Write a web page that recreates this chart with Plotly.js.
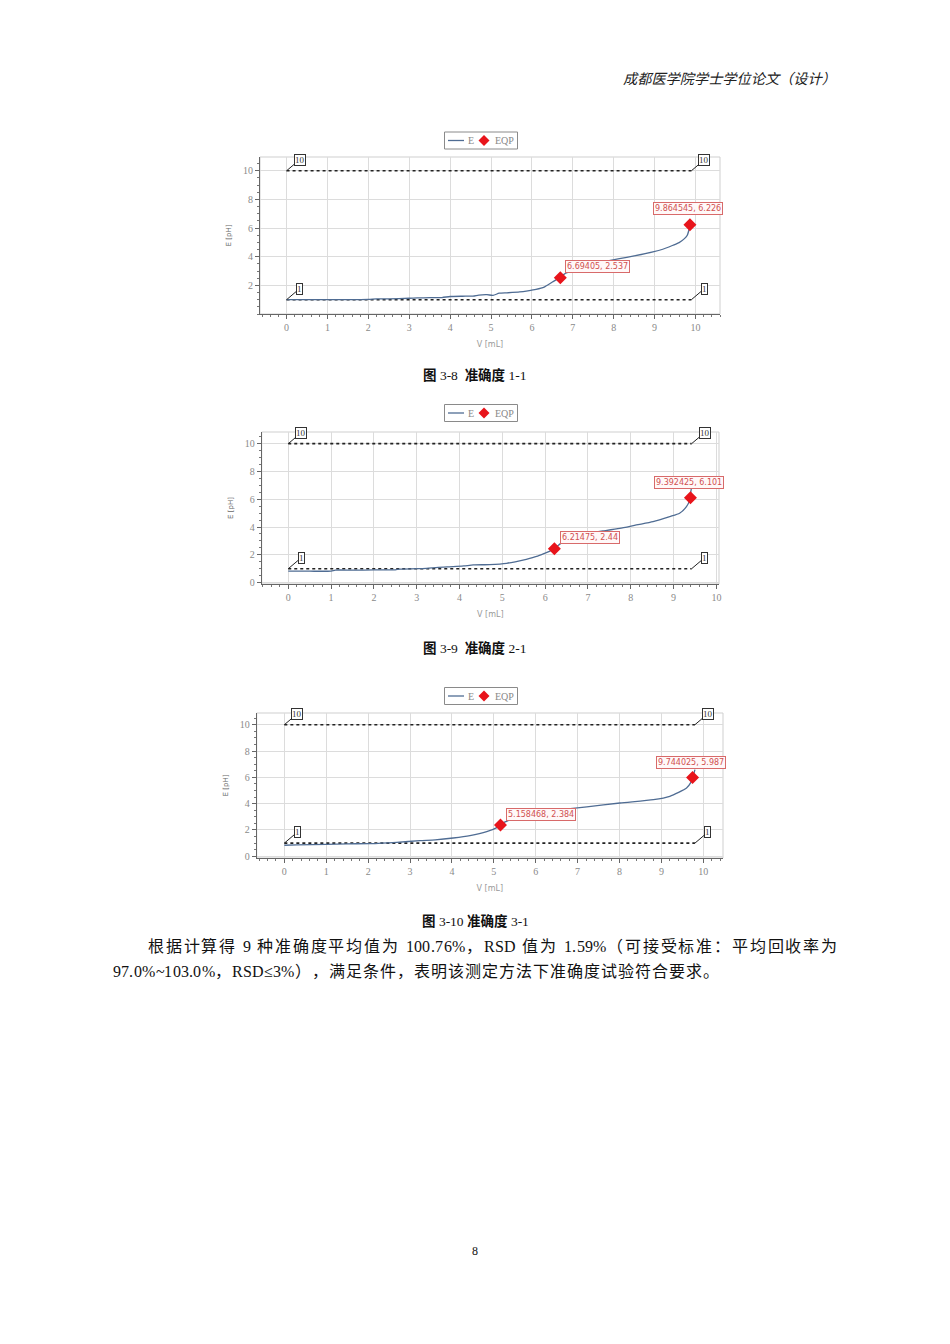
<!DOCTYPE html>
<html><head><meta charset="utf-8">
<script src="https://cdn.plot.ly/plotly-3.0.1.min.js"></script>
<style>html,body{margin:0;padding:0;background:#fff;}</style>
</head><body><div id="page" style="width:950px;height:1344px;"></div>
<script>
// ---- data ----
const v1 = [0, 0.5, 1, 1.5, 2, 2.2, 2.5, 3, 3.2, 3.5, 3.8, 4, 4.3, 4.56, 4.7, 4.9, 5.05, 5.2, 5.4, 5.7, 5.9, 6.1, 6.3, 6.5, 6.64, 6.8, 7.0, 7.33, 7.7, 8.14, 8.5, 8.96, 9.2, 9.45, 9.6, 9.73, 9.8, 9.85, 9.88];
const e1 = [1.0, 1.0, 1.0, 1.0, 1.02, 1.05, 1.06, 1.1, 1.12, 1.14, 1.15, 1.22, 1.24, 1.25, 1.32, 1.35, 1.3, 1.45, 1.48, 1.54, 1.62, 1.72, 1.88, 2.23, 2.47, 2.8, 3.06, 3.45, 3.62, 3.86, 4.05, 4.33, 4.52, 4.8, 4.98, 5.26, 5.5, 5.96, 6.22];
const v2 = [0, 0.5, 1.0, 1.1, 1.5, 2, 2.5, 2.6, 3, 3.23, 3.5, 3.85, 4.1, 4.32, 4.7, 5.1, 5.3, 5.56, 5.8, 5.99, 6.1, 6.25, 6.42, 6.65, 6.96, 7.35, 7.74, 8.13, 8.52, 8.91, 9.14, 9.3, 9.37, 9.4, 9.42];
const e2 = [0.82, 0.82, 0.83, 0.9, 0.9, 0.91, 0.92, 0.97, 1.0, 1.03, 1.1, 1.15, 1.2, 1.27, 1.3, 1.39, 1.5, 1.68, 1.88, 2.11, 2.25, 2.55, 2.95, 3.26, 3.55, 3.72, 3.9, 4.15, 4.39, 4.75, 4.99, 5.47, 5.9, 6.5, 6.9];
const v3 = [0, 0.3, 1.0, 1.5, 2.04, 2.68, 3.24, 3.6, 4.03, 4.43, 4.83, 5.07, 5.2, 5.39, 5.62, 6.02, 6.42, 7.22, 8.01, 8.81, 9.2, 9.6, 9.7, 9.75, 9.8];
const e3 = [0.84, 0.86, 0.91, 0.95, 0.96, 1.06, 1.19, 1.25, 1.39, 1.57, 1.87, 2.18, 2.5, 2.78, 3.09, 3.34, 3.49, 3.75, 4.05, 4.3, 4.56, 5.19, 5.6, 6.0, 6.58];

const eqpV1 = [6.69405, 9.864545], eqpE1 = [2.537, 6.226];
const eqpV2 = [6.21475, 9.392425], eqpE2 = [2.44, 6.101];
const eqpV3 = [5.158468, 9.744025], eqpE3 = [2.384, 5.987];
const eqpLabels1 = ["6.69405, 2.537", "9.864545, 6.226"];
const eqpLabels2 = ["6.21475, 2.44", "9.392425, 6.101"];
const eqpLabels3 = ["5.158468, 2.384", "9.744025, 5.987"];

const limitHigh = 10, limitLow = 1;
const limitEnd = [9.9, 9.42, 9.8];

const captions = ["<b>图</b> 3-8  <b>准确度</b> 1-1", "<b>图</b> 3-9  <b>准确度</b> 2-1", "<b>图</b> 3-10 <b>准确度</b> 3-1"];
const headerText = "成都医学院学士学位论文（设计）";
const para1 = "根据计算得 9 种准确度平均值为 100.76%，RSD 值为 1.59%（可接受标准：平均回收率为";
const para2 = "97.0%~103.0%，RSD≤3%），满足条件，表明该测定方法下准确度试验符合要求。";
const pageNo = "8";

// ---- layout geometry (pixels on the 950x1344 page) ----
const W = 950, H = 1344;
const px = x => x / W, py = y => 1 - y / H;
const charts = [
  {v: v1, e: e1, qv: eqpV1, qe: eqpE1, ql: eqpLabels1, box: [260, 720, 157, 314], xr: [-0.65, 10.6], yr: [0, 10.96], yt: [2,4,6,8,10], leg: 140.5, lab1: {xs: 5, ys: 11}, lab2: {xs: -2, ys: 16}},
  {v: v2, e: e2, qv: eqpV2, qe: eqpE2, ql: eqpLabels2, box: [261.7, 719, 432, 584], xr: [-0.62, 10.06], yr: [-0.1, 10.84], yt: [0,2,4,6,8,10], leg: 413, lab1: {xs: 6, ys: 11}, lab2: {xs: -1, ys: 15}},
  {v: v3, e: e3, qv: eqpV3, qe: eqpE3, ql: eqpLabels3, box: [256.7, 723, 713, 858], xr: [-0.66, 10.47], yr: [-0.13, 10.89], yt: [0,2,4,6,8,10], leg: 696, lab1: {xs: 6, ys: 10}, lab2: {xs: -2, ys: 15}}
];

const lineColor = "#4f6c93", eqpColor = "#e8141b";
const tickFont = {family: "Liberation Serif, DejaVu Serif, serif", size: 10, color: "#8a8a8a"};
const traces = [], annotations = [], shapes = [];
const layout = {width: W, height: H, margin: {l: 0, r: 0, t: 0, b: 0}, paper_bgcolor: "#fff", plot_bgcolor: "#fff", showlegend: false};

charts.forEach((c, i) => {
  const n = i === 0 ? "" : String(i + 1);
  const xa = "x" + n, ya = "y" + n;
  const lim = limitEnd[i];
  layout["xaxis" + n] = {
    domain: [px(c.box[0]), px(c.box[1])], anchor: ya, range: c.xr, tickvals: [0,1,2,3,4,5,6,7,8,9,10],
    showgrid: true, gridcolor: "#dcdcdc", gridwidth: 1, zeroline: false,
    showline: true, linecolor: "#666", linewidth: 1, ticks: "outside", ticklen: 4, tickcolor: "#666",
    minor: {ticks: "outside", ticklen: 2, tickcolor: "#777", dtick: 0.2, showgrid: false},
    tickfont: tickFont,
    title: {text: "V [mL]", font: {family: "DejaVu Sans, sans-serif", size: 8, color: "#999"}, standoff: 9}
  };
  layout["yaxis" + n] = {
    domain: [py(c.box[3]), py(c.box[2])], anchor: xa, range: c.yr, tickvals: c.yt,
    showgrid: true, gridcolor: "#dcdcdc", gridwidth: 1, zeroline: false,
    showline: true, linecolor: "#666", linewidth: 1, ticks: "outside", ticklen: 4, tickcolor: "#666",
    minor: {ticks: "outside", ticklen: 2, tickcolor: "#777", dtick: 0.5, showgrid: false},
    tickfont: tickFont,
    title: {text: "E [pH]", font: {family: "DejaVu Sans, sans-serif", size: 7, color: "#666"}, standoff: 10}
  };
  // frame on top / right
  shapes.push({type: "rect", xref: xa + " domain", yref: ya + " domain", x0: 0, x1: 1, y0: 0, y1: 1, line: {color: "#cfcfcf", width: 1}, layer: "below"});

  // legend key above each chart
  const ly = c.leg;
  shapes.push({type: "rect", xref: "paper", yref: "paper", x0: px(444.5), x1: px(517.5), y0: py(ly - 8.5), y1: py(ly + 8.5), line: {color: "#8a8a8a", width: 1}, fillcolor: "#fff"});
  shapes.push({type: "line", xref: "paper", yref: "paper", x0: px(448), x1: px(464), y0: py(ly), y1: py(ly), line: {color: lineColor, width: 1.3}});
  shapes.push({type: "path", xref: "paper", yref: "paper", fillcolor: eqpColor, line: {color: eqpColor, width: 0},
    path: `M ${px(484)} ${py(ly - 5.5)} L ${px(489.5)} ${py(ly)} L ${px(484)} ${py(ly + 5.5)} L ${px(478.5)} ${py(ly)} Z`});
  annotations.push({xref: "paper", yref: "paper", x: px(465.5), y: py(ly), xanchor: "left", yanchor: "middle", showarrow: false,
    text: "E", font: {family: "Liberation Serif, serif", size: 10, color: "#888"}});
  annotations.push({xref: "paper", yref: "paper", x: px(493), y: py(ly), xanchor: "left", yanchor: "middle", showarrow: false,
    text: "EQP", font: {family: "Liberation Serif, serif", size: 10, color: "#888"}});

  // limit lines
  [limitHigh, limitLow].forEach(L => {
    traces.push({x: [0, lim], y: [L, L], xaxis: xa, yaxis: ya, mode: "lines", showlegend: false, hoverinfo: "skip",
      line: {color: "#222", width: 1.6, dash: "dot"}});
    [0, lim].forEach(xx => annotations.push({
      x: xx, y: L, xref: xa, yref: ya, text: String(L), showarrow: true, arrowhead: 0, arrowwidth: 1, arrowcolor: "#222",
      ax: 13, ay: -11, bgcolor: "#fff", bordercolor: "#333", borderwidth: 1, borderpad: 0,
      font: {family: "Liberation Serif, serif", size: 9, color: "#333"}
    }));
  });

  traces.push({x: c.v, y: c.e, xaxis: xa, yaxis: ya, mode: "lines", name: "E",
    line: {color: lineColor, width: 1.3, shape: "spline", smoothing: 0.6}});
  traces.push({x: c.qv, y: c.qe, xaxis: xa, yaxis: ya, mode: "markers", name: "EQP",
    marker: {symbol: "diamond", size: 10, color: eqpColor}});

  [c.lab1, c.lab2].forEach((lb, k) => annotations.push({
    x: c.qv[k], y: c.qe[k], xref: xa, yref: ya, text: c.ql[k], showarrow: false,
    xanchor: k === 0 ? "left" : "center", yanchor: "middle", xshift: lb.xs, yshift: lb.ys,
    bgcolor: "#fff8f8", bordercolor: "#d86a6a", borderwidth: 1, borderpad: 1,
    font: {family: "DejaVu Sans, sans-serif", size: 8, color: "#d05050"}
  }));
});

// page texts
const cjk = "Liberation Serif, Noto Sans CJK SC, serif";
annotations.push({xref: "paper", yref: "paper", x: px(838), y: py(79), xanchor: "right", yanchor: "middle", showarrow: false,
  text: "<i>" + headerText + "</i>", font: {family: cjk, size: 14.2, color: "#222"}});
[375, 648, 921].forEach((yy, i) => annotations.push({xref: "paper", yref: "paper", x: px(475), y: py(yy), xanchor: "center", yanchor: "middle", showarrow: false,
  text: captions[i], font: {family: cjk, size: 13.5, color: "#111"}}));

// paragraph: justify each line across the same width as on the page
const ctx = document.createElement("canvas").getContext("2d");
const paraSize = 16;
ctx.font = paraSize + "px 'Liberation Serif', 'Noto Sans CJK SC', serif";
const isWide = ch => /[\u3000-\u9fff\uff00-\uffef ]/.test(ch);
function layLine(str, x0, x1, yy) {
  const chars = Array.from(str);
  const widths = chars.map(ch => ctx.measureText(ch).width);
  const weights = chars.map(ch => isWide(ch) ? 1 : 0.25);
  const total = widths.reduce((a, b) => a + b, 0);
  const wsum = weights.slice(0, -1).reduce((a, b) => a + b, 0);
  const unit = (x1 - x0 - total) / wsum;
  let x = x0;
  chars.forEach((ch, k) => {
    if (ch !== " ") annotations.push({xref: "paper", yref: "paper", x: px(x), y: py(yy), xanchor: "left", yanchor: "middle",
      showarrow: false, borderpad: 0, text: ch, font: {family: cjk, size: paraSize, color: "#111"}});
    x += widths[k] + unit * weights[k];
  });
}
layLine(para1, 147, 836, 946);
layLine(para2, 112, 718, 971);

annotations.push({xref: "paper", yref: "paper", x: px(475), y: py(1251), xanchor: "center", yanchor: "middle", showarrow: false,
  text: pageNo, font: {family: cjk, size: 12, color: "#111"}});

layout.annotations = annotations;
layout.shapes = shapes;
Plotly.newPlot("page", traces, layout, {staticPlot: true, displayModeBar: false});
</script>
</body></html>
